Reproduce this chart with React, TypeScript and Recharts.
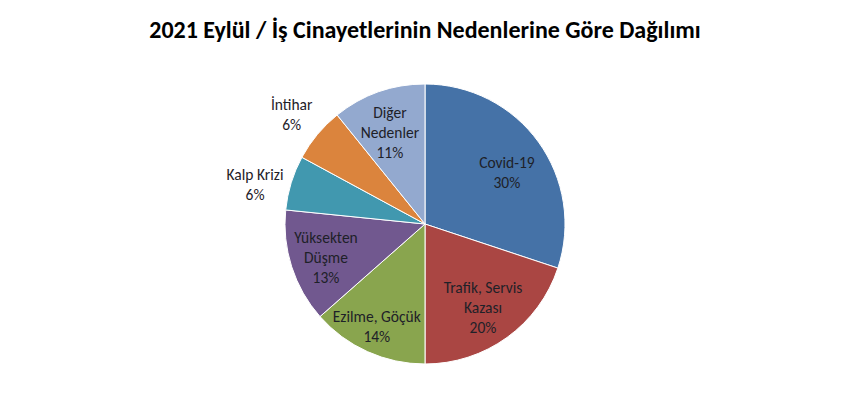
import React from "react";
import { PieChart, Pie, Cell } from "recharts";

const categories = [
  "Covid-19",
  "Trafik, Servis Kazası",
  "Ezilme, Göçük",
  "Yüksekten Düşme",
  "Kalp Krizi",
  "İntihar",
  "Diğer Nedenler",
];
const labelLines = [
  ["Covid-19"],
  ["Trafik, Servis", "Kazası"],
  ["Ezilme, Göçük"],
  ["Yüksekten", "Düşme"],
  ["Kalp Krizi"],
  ["İntihar"],
  ["Diğer", "Nedenler"],
];
const shares = [30.1, 19.9, 13.5, 13.1, 6.3, 6.3, 10.8];
const percentLabels = ["30%", "20%", "14%", "13%", "6%", "6%", "11%"];

const colors = ["#4572A7", "#AA4643", "#89A54E", "#71588F", "#4198AF", "#DB843D", "#93A9CF"];
// label placement: radius as fraction of outer radius, and clockwise angle offset (deg)
const labelRadiusFactor = [0.693, 0.724, 0.806, 0.745, 1.247, 1.234, 0.705];
const labelAngleOffset = [3.4, 0.9, 1.0, -0.5, -3.9, -0.3, -1.4];

const data = categories.map((name, i) => ({ name, value: shares[i] }));

const FONT = "Carlito, Lato, 'Open Sans', sans-serif";
const RAD = Math.PI / 180;

const renderLabel = (props: any) => {
  const { cx, cy, midAngle, outerRadius, index } = props;
  const r = outerRadius * labelRadiusFactor[index];
  const a = midAngle - labelAngleOffset[index];
  const x = cx + r * Math.cos(-a * RAD);
  const y = cy + r * Math.sin(-a * RAD);
  const lines = [...labelLines[index], percentLabels[index]];
  const lh = 20;
  const y0 = y - ((lines.length - 1) * lh) / 2;
  return (
    <text
      key={`lbl-${index}`}
      x={x}
      y={y0}
      textAnchor="middle"
      dominantBaseline="central"
      fill="#1e2128"
      fontSize={15.5}
      fontFamily={FONT}
    >
      {lines.map((l, k) => (
        <tspan key={k} x={x} y={y0 + k * lh} dominantBaseline="central">
          {l}
        </tspan>
      ))}
    </text>
  );
};

export default function App() {
  return (
    <div style={{ position: "absolute", left: 0, top: 0, width: 850, height: 404, background: "#fff" }}>
      <div
        style={{
          position: "absolute",
          left: 0,
          top: 16,
          width: 850,
          textAlign: "center",
          fontFamily: FONT,
          fontWeight: 700,
          fontSize: 24,
          color: "#000",
          lineHeight: "28px",
        }}
      >
        2021 Eylül / İş Cinayetlerinin Nedenlerine Göre Dağılımı
      </div>
      <PieChart width={850} height={404} style={{ position: "absolute", left: 0, top: 0 }}>
        <Pie
          data={data}
          dataKey="value"
          nameKey="name"
          cx={420}
          cy={219}
          outerRadius={140}
          startAngle={90}
          endAngle={-270}
          stroke="#ffffff"
          strokeWidth={1}
          label={renderLabel}
          labelLine={false}
          isAnimationActive={false}
        >
          {data.map((d, i) => (
            <Cell key={d.name} fill={colors[i]} />
          ))}
        </Pie>
      </PieChart>
    </div>
  );
}
